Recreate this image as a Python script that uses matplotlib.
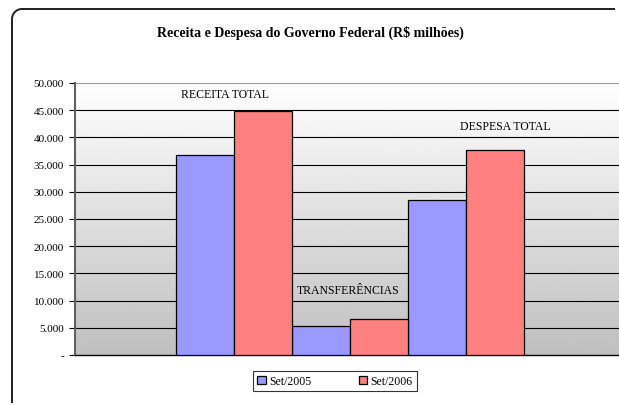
import numpy as np
import matplotlib
matplotlib.use('Agg')
import matplotlib.pyplot as plt
from matplotlib.lines import Line2D

categories = ['RECEITA TOTAL', 'TRANSFERÊNCIAS', 'DESPESA TOTAL']
set2005 = [36800, 5300, 28500]
set2006 = [44800, 6600, 37700]
series_names = ['Set/2005', 'Set/2006']
yticks = [0, 5000, 10000, 15000, 20000, 25000, 30000, 35000, 40000, 45000, 50000]
ytick_labels = ['-', '5.000', '10.000', '15.000', '20.000', '25.000',
                '30.000', '35.000', '40.000', '45.000', '50.000']

plt.rcParams['font.family'] = ['Liberation Serif', 'DejaVu Serif']

W, H = 619, 406
fig = plt.figure(figsize=(W / 100, H / 100), dpi=100)

# outer frame: left and top edges with a rounded corner (pixel coords, y from top)
r = 10
x0, ytop = 12, 10
t = np.linspace(np.pi, 1.5 * np.pi, 20)
cx, cy = x0 + r, ytop + r
fx = np.concatenate([[x0], cx + r * np.cos(t), [W - 4]])
fy = np.concatenate([[H - 2], cy + r * np.sin(t), [ytop]])
fig.add_artist(Line2D(fx / W, 1 - fy / H, transform=fig.transFigure,
                      color='#202020', linewidth=1.4, solid_capstyle='butt'))

ax = fig.add_axes([75 / W, (H - 356) / H, (625 - 75) / W, (356 - 84) / H])

# gradient background, white on top to grey at bottom
grad = np.linspace(0.75, 1.0, 256).reshape(-1, 1)
ax.imshow(grad, extent=[0, 1, 0, 1], transform=ax.transAxes, aspect='auto',
          cmap='gray', vmin=0, vmax=1, origin='lower', zorder=0)

x = np.arange(len(categories))
w = 0.5
ax.bar(x - w / 2, set2005, w, color='#9999FF', edgecolor='black', linewidth=0.9,
       label=series_names[0], zorder=3)
ax.bar(x + w / 2, set2006, w, color='#FF8080', edgecolor='black', linewidth=0.9,
       label=series_names[1], zorder=3)

for yv in yticks[1:-1]:
    ax.axhline(yv, color='black', linewidth=0.8, zorder=1)
ax.axhline(yticks[-1], color='#808080', linewidth=1.2, zorder=1)

ax.set_xlim(-1.371, 3.371)
ax.set_ylim(0, 50000)
ax.set_yticks(yticks)
ax.set_yticklabels(ytick_labels, fontsize=8)
ax.set_xticks([])
ax.tick_params(axis='y', direction='out', length=4, width=0.8, pad=4)
for s in ['top', 'right']:
    ax.spines[s].set_visible(False)
ax.spines['left'].set_color('#606060')
ax.spines['left'].set_linewidth(1.5)
ax.spines['bottom'].set_linewidth(1.0)

# category labels
label_pos = [(-0.08, 48000), (0.98, 11900), (2.34, 42100)]
for name, (lx, ly) in zip(categories, label_pos):
    ax.text(lx, ly, name, ha='center', va='center', fontsize=8.5, zorder=4)

fig.text(310 / W, 1 - 33 / H, 'Receita e Despesa do Governo Federal (R$ milhões)',
         ha='center', va='center', fontsize=10, fontweight='bold')

leg = fig.legend(loc='center', bbox_to_anchor=(335 / W, 1 - 382 / H), ncol=2,
                 fontsize=8.5, frameon=True, fancybox=False, edgecolor='black',
                 handlelength=0.7, handleheight=0.7, columnspacing=4.0,
                 handletextpad=0.3, borderpad=0.35, borderaxespad=0)
leg.get_frame().set_linewidth(0.8)

fig.savefig('out.png', dpi=100)
